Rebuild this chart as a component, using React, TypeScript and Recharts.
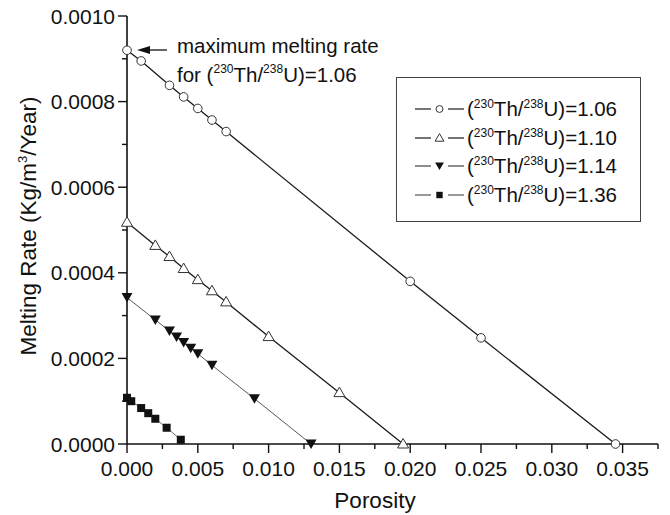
import React from 'react';
import { LineChart, Line, XAxis, YAxis, Legend, Customized } from 'recharts';

// (230Th/238U) ratio of each curve
const ratios = ['1.06', '1.10', '1.14', '1.36'];

const porosity106 = [0, 0.001, 0.003, 0.004, 0.005, 0.006, 0.007, 0.02, 0.025, 0.0345];
const rate106 = [0.00092, 0.000895, 0.000838, 0.000811, 0.000784, 0.000757, 0.00073, 0.00038, 0.000248, 0];

const porosity110 = [0, 0.002, 0.003, 0.004, 0.005, 0.006, 0.007, 0.01, 0.015, 0.0195];
const rate110 = [0.000518, 0.000464, 0.000438, 0.00041, 0.000384, 0.000358, 0.000332, 0.000251, 0.00012, 0];

const porosity114 = [0, 0.002, 0.003, 0.0035, 0.004, 0.0045, 0.005, 0.006, 0.009, 0.013];
const rate114 = [0.000342, 0.00029, 0.000264, 0.00025, 0.000237, 0.000224, 0.000211, 0.000184, 0.000106, 0];

const porosity136 = [0, 0.0003, 0.001, 0.0015, 0.002, 0.0028, 0.0038];
const rate136 = [0.000108, 0.0001, 0.000084, 0.000072, 0.000059, 0.000038, 0.00001];

const xTicks = [0, 0.0025, 0.005, 0.0075, 0.01, 0.0125, 0.015, 0.0175, 0.02, 0.0225, 0.025, 0.0275, 0.03, 0.0325, 0.035, 0.0375];
const yTicks = [0, 0.0001, 0.0002, 0.0003, 0.0004, 0.0005, 0.0006, 0.0007, 0.0008, 0.0009, 0.001];

const toRows = (xs: number[], ys: number[]) => xs.map((x, i) => ({ x, y: ys[i] }));
const series = [
  { name: ratios[0], data: toRows(porosity106, rate106), kind: 'circle', width: 1.3, color: '#1a1a1a' },
  { name: ratios[1], data: toRows(porosity110, rate110), kind: 'up', width: 1.3, color: '#1a1a1a' },
  { name: ratios[2], data: toRows(porosity114, rate114), kind: 'down', width: 0.9, color: '#444' },
  { name: ratios[3], data: toRows(porosity136, rate136), kind: 'square', width: 0.9, color: '#555' },
];

const FONT = '"Liberation Sans", Arial, sans-serif';

function Marker({ kind, cx, cy, s = 1 }: { kind: string; cx: number; cy: number; s?: number }) {
  if (kind === 'circle')
    return <circle cx={cx} cy={cy} r={4.3 * s} fill="#fff" stroke="#333" strokeWidth={1} />;
  if (kind === 'up')
    return (
      <polygon
        points={`${cx},${cy - 5.5 * s} ${cx - 5.5 * s},${cy + 4 * s} ${cx + 5.5 * s},${cy + 4 * s}`}
        fill="#fff"
        stroke="#333"
        strokeWidth={1}
      />
    );
  if (kind === 'down')
    return (
      <polygon
        points={`${cx - 5.5 * s},${cy - 4.5 * s} ${cx + 5.5 * s},${cy - 4.5 * s} ${cx},${cy + 5 * s}`}
        fill="#111"
      />
    );
  return <rect x={cx - 4 * s} y={cy - 4 * s} width={8 * s} height={8 * s} fill="#111" />;
}

const YTick = (p: any) => {
  const v = p.payload.value;
  const major = Math.round(v / 0.0001) % 2 === 0;
  return (
    <g>
      <line x1={p.x - (major ? 9 : 5)} x2={p.x} y1={p.y} y2={p.y} stroke="#111" strokeWidth={1.4} />
      {major && (
        <text x={p.x - 12} y={p.y} dy={7.5} textAnchor="end" fontSize={21} fontFamily={FONT} fill="#111">
          {v.toFixed(4)}
        </text>
      )}
    </g>
  );
};

const XTick = (p: any) => {
  const v = p.payload.value;
  const major = Math.round(v / 0.0025) % 2 === 0;
  return (
    <g>
      <line x1={p.x} x2={p.x} y1={p.y} y2={p.y + (major ? 9 : 5)} stroke="#111" strokeWidth={1.4} />
      {major && (
        <text x={p.x} y={p.y + 31.5} textAnchor="middle" fontSize={21} fontFamily={FONT} fill="#111">
          {v.toFixed(3)}
        </text>
      )}
    </g>
  );
};

const Ratio = ({ value }: { value: string }) => (
  <span>
    (<span style={{ fontSize: 12, position: 'relative', top: -8 }}>230</span>Th/
    <span style={{ fontSize: 12, position: 'relative', top: -8 }}>238</span>U)={value}
  </span>
);

const renderLegend = () => (
  <div
    style={{
      width: 245,
      height: 145,
      boxSizing: 'border-box',
      border: '1.5px solid #444',
      background: '#fff',
      fontFamily: FONT,
      fontSize: 20.5,
      paddingTop: 17,
      paddingLeft: 18,
      color: '#111',
    }}
  >
    {series.map((s) => (
      <div key={s.name} style={{ display: 'flex', alignItems: 'center', height: 28.5 }}>
        <svg width={49} height={20} style={{ flex: 'none' }}>
          <line x1={0} x2={16} y1={10} y2={10} stroke={s.color} strokeWidth={1.2} />
          <line x1={33} x2={49} y1={10} y2={10} stroke={s.color} strokeWidth={1.2} />
          <Marker kind={s.kind} cx={24.5} cy={10} s={0.8} />
        </svg>
        <span style={{ marginLeft: 3, whiteSpace: 'nowrap' }}>
          <Ratio value={s.name} />
        </span>
      </div>
    ))}
  </div>
);

const Annotations = () => (
  <g fontFamily={FONT} fill="#111">
    <line x1={167} x2={146} y1={50} y2={50} stroke="#111" strokeWidth={1.3} />
    <polygon points="137,50 150,46 150,54" fill="#111" />
    <text x={177} y={53} fontSize={20.5}>maximum melting rate</text>
    <text x={177} y={82} fontSize={20.5}>
      for (<tspan fontSize={12} dy={-9}>230</tspan>
      <tspan dy={9}>Th/</tspan>
      <tspan fontSize={12} dy={-9}>238</tspan>
      <tspan dy={9}>U)=1.06</tspan>
    </text>
    <text x={375} y={508} fontSize={22.5} textAnchor="middle">Porosity</text>
    <text transform="translate(36,226) rotate(-90)" fontSize={22.5} textAnchor="middle">
      Melting Rate (Kg/m<tspan fontSize={13} dy={-9}>3</tspan>
      <tspan dy={9}>/Year)</tspan>
    </text>
  </g>
);

export default function App() {
  return (
    <div style={{ position: 'absolute', left: 0, top: 0, background: '#fff' }}>
      <LineChart width={670} height={515} margin={{ top: 16, right: 12, bottom: 0, left: 0 }}>
        <XAxis
          type="number"
          dataKey="x"
          domain={[0, 0.0375]}
          ticks={xTicks}
          interval={0}
          height={71}
          tickSize={0}
          tickMargin={0}
          tickLine={false}
          tick={<XTick />}
          axisLine={{ stroke: '#111', strokeWidth: 1.6 }}
        />
        <YAxis
          type="number"
          dataKey="y"
          domain={[0, 0.001]}
          ticks={yTicks}
          interval={0}
          width={127}
          tickSize={0}
          tickMargin={0}
          tickLine={false}
          tick={<YTick />}
          axisLine={{ stroke: '#111', strokeWidth: 1.6 }}
        />
        {series.map((s) => (
          <Line
            key={s.name}
            name={s.name}
            data={s.data}
            dataKey="y"
            type="linear"
            stroke={s.color}
            strokeWidth={s.width}
            isAnimationActive={false}
            dot={(p: any) => <Marker key={p.index} kind={s.kind} cx={p.cx} cy={p.cy} />}
            activeDot={false}
          />
        ))}
        <Legend
          layout="vertical"
          verticalAlign="middle"
          align="center"
          content={renderLegend}
          wrapperStyle={{ left: 396, top: 77, width: 245, height: 145 }}
        />
        <Customized component={Annotations} />
      </LineChart>
    </div>
  );
}
